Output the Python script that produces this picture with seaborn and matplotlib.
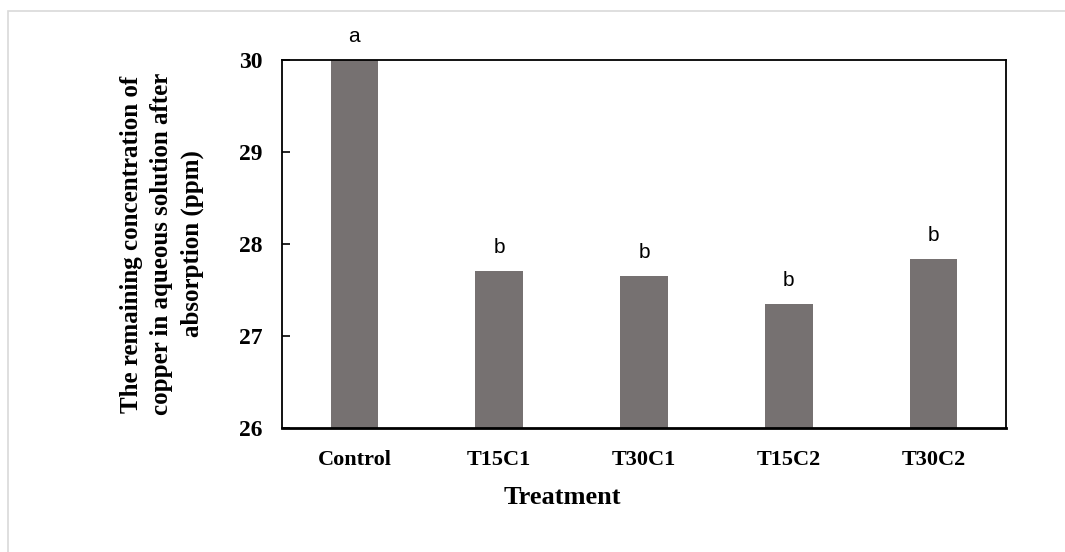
import matplotlib
matplotlib.use("Agg")
import matplotlib.pyplot as plt
import seaborn as sns
import pandas as pd
from matplotlib.patches import Rectangle

categories = ["Control", "T15C1", "T30C1", "T15C2", "T30C2"]
values = [30.0, 27.71, 27.65, 27.35, 27.84]
letters = ["a", "b", "b", "b", "b"]
yticks = [26, 27, 28, 29, 30]

sns.set_theme(style="white")
plt.rcParams["font.family"] = ["Liberation Serif", "DejaVu Serif"]
plt.rcParams["text.color"] = "black"
plt.rcParams["axes.labelcolor"] = "black"
plt.rcParams["xtick.color"] = "black"
plt.rcParams["ytick.color"] = "black"

df = pd.DataFrame({"Treatment": categories, "Value": values})

fig = plt.figure(figsize=(10.65, 5.52), dpi=100)
ax = fig.add_axes([282/1065, 1-428/552, (1006-282)/1065, (428-60)/552])

sns.barplot(data=df, x="Treatment", y="Value", color="#767171", width=0.33,
            saturation=1, ax=ax, edgecolor="none")

ax.set_ylim(26, 30)
ax.set_xlim(-0.5, 4.5)
ax.set_yticks(yticks)
ax.set_yticklabels([str(t) for t in yticks], fontsize=17, fontweight="bold")
ax.tick_params(axis="y", direction="in", length=6, width=1.2, left=True, pad=14,
               colors="black")
ax.tick_params(axis="x", length=0, pad=16, labelsize=16, colors="black")
for lab in ax.get_xticklabels():
    lab.set_fontweight("bold")

for s in ax.spines.values():
    s.set_visible(True)
    s.set_color("black")
    s.set_linewidth(1.3)
ax.spines["bottom"].set_linewidth(2)

ax.set_xlabel("Treatment", fontsize=19, fontweight="bold", color="black")
ax.xaxis.label.set_va("center")
ax.xaxis.set_label_coords((562-282)/724, (428-497)/368)
ax.set_ylabel("The remaining concentration of\ncopper in aqueous solution after\nabsorption (ppm)",
              fontsize=18, fontweight="bold", linespacing=1.38, color="black")
ax.yaxis.label.set_va("center")
ax.yaxis.set_label_coords((162-282)/724, 0.5)

for i, (v, l) in enumerate(zip(values, letters)):
    ax.annotate(l, (i, v), xytext=(0, 13), textcoords="offset points",
                ha="center", va="baseline", fontsize=15, color="black",
                family=["Liberation Sans", "DejaVu Sans"], clip_on=False)

fig.patches.append(Rectangle((8/1065, -0.1), 1.2, 1 - 11/552 + 0.1,
                             transform=fig.transFigure, fill=False,
                             edgecolor="#d9d9d9", linewidth=1.2))

fig.savefig("out.png", dpi=100, facecolor="white")
